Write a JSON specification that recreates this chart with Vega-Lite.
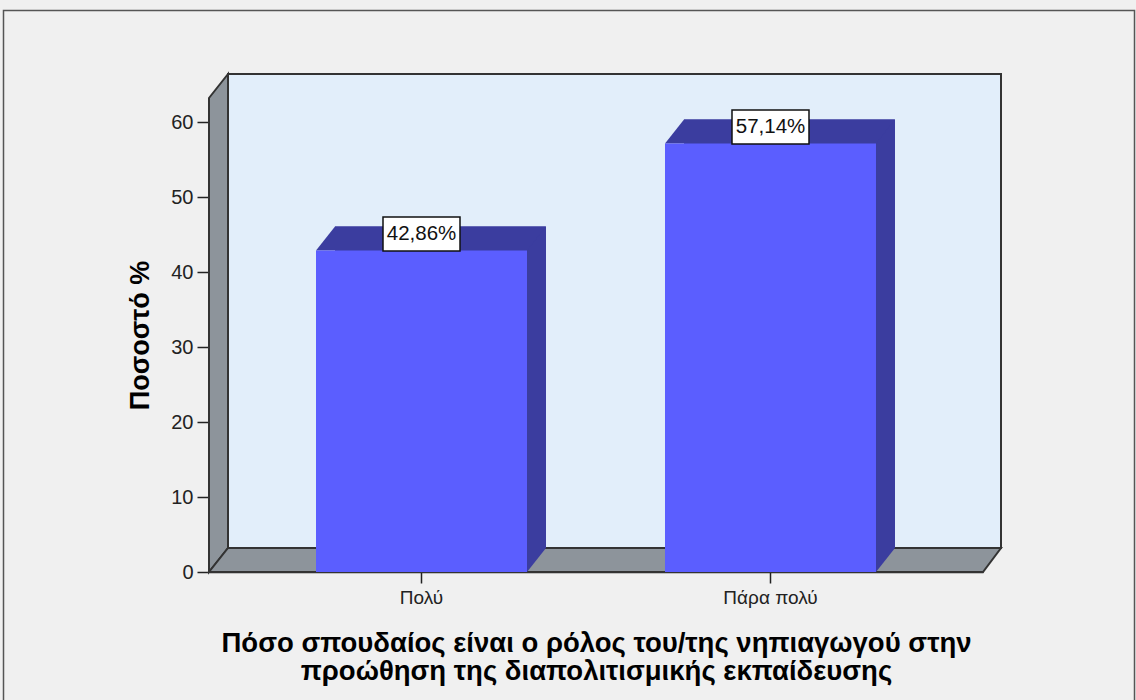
{
  "$schema": "https://vega.github.io/schema/vega-lite/v6.json",
  "width": 774,
  "height": 474,
  "autosize": {"type": "none"},
  "padding": {"left": 209, "top": 98, "right": 153, "bottom": 128},
  "background": "#f0f0f0",
  "config": {"font": "Liberation Sans", "view": {"stroke": null}},
  "data": {"values": [{"cat": "Πολύ", "pct": 42.86}, {"cat": "Πάρα πολύ", "pct": 57.14}]},
  "encoding": {
    "x": {
      "field": "cat", "type": "nominal", "sort": ["Πολύ", "Πάρα πολύ"],
      "scale": {"paddingInner": 0.3954, "paddingOuter": 0.3066},
      "axis": {
        "title": ["Πόσο σπουδαίος είναι ο ρόλος του/της νηπιαγωγού στην", "προώθηση της διαπολιτισμικής εκπαίδευσης"],
        "labelAngle": 0, "tickSize": 11, "tickWidth": 1.5, "tickColor": "#222",
        "domainColor": "#222", "domainWidth": 1.5,
        "labelPadding": 5, "labelFontSize": 19, "labelColor": "#222",
        "titleFontSize": 27.5, "titleFontWeight": "bold", "titleColor": "#000",
        "titleLineHeight": 28, "titlePadding": 22
      }
    },
    "y": {
      "field": "pct", "type": "quantitative",
      "scale": {"domain": [0, 63.2], "nice": false},
      "axis": {
        "title": "Ποσοστό %", "values": [0, 10, 20, 30, 40, 50, 60], "grid": false,
        "tickSize": 12, "tickWidth": 1.5, "tickColor": "#222",
        "domainColor": "#222", "domainWidth": 1.5,
        "labelFontSize": 20, "labelColor": "#222", "labelPadding": 4,
        "titleFontSize": 27, "titleFontWeight": "bold", "titleColor": "#000", "titlePadding": 16
      }
    }
  },
  "layer": [
    {
      "transform": [{"filter": "datum.cat == 'Πολύ'"}],
      "mark": {"type": "point", "shape": "M-418,-561.5H713V140H-418Z", "size": 4, "filled": false, "stroke": "#555", "strokeWidth": 1.5, "opacity": 1},
      "encoding": {"y": {"datum": 0}}
    },
    {
      "transform": [{"filter": "datum.cat == 'Πολύ'"}],
      "mark": {"type": "point", "shape": "M-193.5,-498H579.5V-24H-193.5Z", "size": 4, "filled": true, "fill": "#e2eefa", "stroke": "#333", "strokeWidth": 2, "opacity": 1},
      "encoding": {"y": {"datum": 0}}
    },
    {
      "transform": [{"filter": "datum.cat == 'Πολύ'"}],
      "mark": {"type": "point", "shape": "M-212.5,0L-212.5,-474L-193.5,-498L-193.5,-24Z", "size": 4, "filled": true, "fill": "#8d949b", "stroke": "#333", "strokeWidth": 2, "opacity": 1},
      "encoding": {"y": {"datum": 0}}
    },
    {
      "transform": [{"filter": "datum.cat == 'Πολύ'"}],
      "mark": {"type": "point", "shape": "M-212.5,0L561.5,0L579.5,-24L-193.5,-24Z", "size": 4, "filled": true, "fill": "#8d949b", "stroke": "#333", "strokeWidth": 2, "opacity": 1},
      "encoding": {"y": {"datum": 0}}
    },
    {
      "mark": {"type": "bar", "color": "#3b3d9f", "xOffset": 19, "x2Offset": 19, "yOffset": -24, "y2Offset": -24}
    },
    {
      "mark": {"type": "point", "shape": "M-105.5,0L105.5,0L124.5,-24L-86.5,-24Z", "size": 4, "filled": true, "fill": "#3b3d9f", "strokeWidth": 0, "opacity": 1}
    },
    {
      "mark": {"type": "point", "shape": "M105.5,0L124.5,-24L105.5,-24Z", "size": 4, "filled": true, "fill": "#3b3d9f", "strokeWidth": 0, "opacity": 1},
      "encoding": {"y": {"datum": 0}}
    },
    {
      "mark": {"type": "bar", "color": "#5b5eff"}
    },
    {
      "mark": {"type": "point", "shape": "M-38.5,-33.5H38.5V0.5H-38.5Z", "size": 4, "filled": true, "fill": "#ffffff", "stroke": "#111", "strokeWidth": 1.5, "opacity": 1}
    },
    {
      "mark": {"type": "text", "dy": -16.5, "baseline": "middle", "align": "center", "fontSize": 20.5, "color": "#111", "text": {"expr": "replace(format(datum.pct, '.2f'), '.', ',') + '%'"}}
    }
  ]
}
